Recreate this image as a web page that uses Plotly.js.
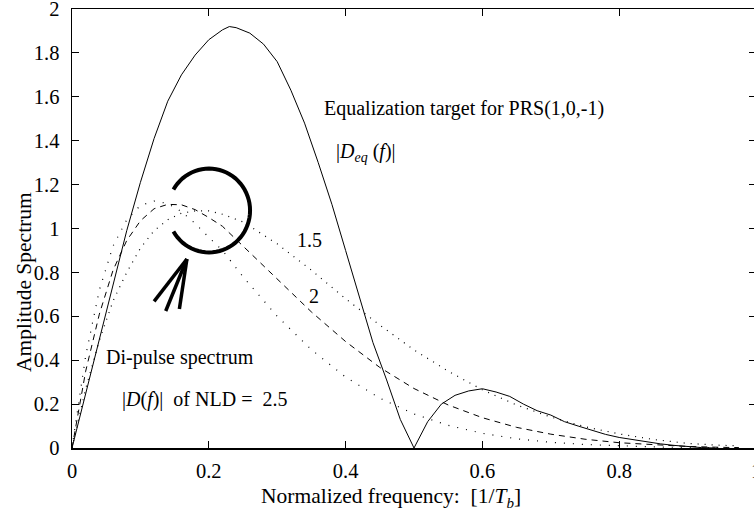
<!DOCTYPE html>
<html>
<head>
<meta charset="utf-8">
<script src="https://cdn.plot.ly/plotly-3.0.1.min.js"></script>
<style>
html,body{margin:0;padding:0;background:#fff;overflow:hidden;width:754px;height:520px;}
#chart{width:760px;height:520px;}
</style>
</head>
<body>
<div id="chart"></div>
<script>
// Equalization target |Deq(f)| (solid)
var eqFreq = [0,0.02,0.04,0.06,0.08,0.10,0.12,0.14,0.16,0.18,0.20,0.22,0.23,0.24,0.26,0.28,0.30,0.32,0.34,0.36,0.38,0.40,0.42,0.44,0.46,0.48,0.50,0.52,0.54,0.56,0.58,0.60,0.62,0.64,0.66,0.68,0.70,0.72,0.74,0.76,0.78,0.80,0.82,0.84,0.86,0.88,0.90,0.92,0.94];
var eqAmp  = [0,0.25,0.50,0.74,0.99,1.21,1.41,1.58,1.70,1.79,1.86,1.905,1.92,1.915,1.89,1.84,1.76,1.63,1.48,1.30,1.11,0.90,0.69,0.48,0.31,0.13,0.0,0.12,0.20,0.24,0.26,0.27,0.255,0.235,0.20,0.17,0.15,0.12,0.10,0.08,0.062,0.048,0.038,0.028,0.019,0.012,0.006,0.002,0];

// Di-pulse spectra |D(f)| for NLD = 1.5, 2, 2.5
var dFreq   = [0,0.02,0.04,0.06,0.08,0.10,0.12,0.14,0.16,0.18,0.20,0.22,0.25,0.30,0.35,0.40,0.45,0.50,0.55,0.60,0.65,0.70,0.75,0.80,0.85,0.90,0.95,0.975];
var dNld15  = [0,0.27,0.49,0.67,0.80,0.91,0.99,1.04,1.07,1.08,1.08,1.065,1.03,0.93,0.81,0.68,0.56,0.447,0.35,0.265,0.196,0.141,0.097,0.064,0.039,0.021,0.012,0.01];
var dNld20  = [0,0.35,0.61,0.81,0.945,1.035,1.09,1.11,1.108,1.086,1.05,1.01,0.92,0.77,0.62,0.485,0.367,0.271,0.196,0.138,0.094,0.063,0.04,0.024,0.014,0.007,0.003,0.002];
var dNld25  = [0,0.42,0.72,0.92,1.04,1.105,1.125,1.114,1.077,1.023,0.96,0.90,0.78,0.60,0.448,0.323,0.227,0.155,0.103,0.067,0.042,0.026,0.016,0.009,0.005,0.002,0.001,0.001];

var xTicks = [0,0.2,0.4,0.6,0.8,1];
var xTickText = ['0','0.2','0.4','0.6','0.8','1'];
var yTicks = [0,0.2,0.4,0.6,0.8,1,1.2,1.4,1.6,1.8,2];
var yTickText = ['0','0.2','0.4','0.6','0.8','1','1.2','1.4','1.6','1.8','2'];

var FONT = '"Liberation Serif", "Times New Roman", Times, serif';

var traces = [
  {x: eqFreq, y: eqAmp, mode: 'lines', line: {color: '#000', width: 1}, hoverinfo: 'skip'},
  {x: dFreq, y: dNld15, mode: 'lines', line: {color: '#000', width: 1.2, dash: '1px,6px'}, hoverinfo: 'skip'},
  {x: dFreq, y: dNld20, mode: 'lines', line: {color: '#000', width: 1, dash: '6px,5px'}, hoverinfo: 'skip'},
  {x: dFreq, y: dNld25, mode: 'lines', line: {color: '#000', width: 1.2, dash: '1px,8px'}, hoverinfo: 'skip'}
];

// open circle (arc) around the peak region, built in data units
var arcCx = 0.2003, arcCy = 1.082, arcRx = 0.060, arcRy = 0.191;
var arcPath = '';
for (var i = 0; i <= 60; i++) {
  var a = (150 - i * 300 / 60) * Math.PI / 180;
  var px = arcCx + arcRx * Math.cos(a);
  var py = arcCy + arcRy * Math.sin(a);
  arcPath += (i === 0 ? 'M ' : ' L ') + px.toFixed(4) + ',' + py.toFixed(4);
}

var arrowTip = [0.168, 0.861];
var arrowTails = [[0.120, 0.668], [0.137, 0.624], [0.157, 0.633]];

var shapes = [{type: 'path', xref: 'x', yref: 'y', path: arcPath, line: {color: '#000', width: 4}}];
arrowTails.forEach(function (t) {
  shapes.push({type: 'line', xref: 'x', yref: 'y', x0: t[0], y0: t[1], x1: arrowTip[0], y1: arrowTip[1], line: {color: '#000', width: 3.5}});
});

function ann(text, x, y, xanchor, extra) {
  var o = {text: text, x: x, y: y, xref: 'paper', yref: 'paper', xanchor: xanchor || 'left', yanchor: 'middle',
    showarrow: false, font: {family: FONT, size: 20, color: '#000'}};
  for (var k in extra) o[k] = extra[k];
  return o;
}
// helper: pixel position -> paper coords (plot area 72..756 x, 9..448 y)
function pX(px) { return (px - 72) / 684; }
function pY(py) { return (448 - py) / 439; }

var annotations = [
  ann('Equalization target for PRS(1,0,-1)', pX(322), pY(108)),
  ann('|<i>D</i><sub><i>eq</i></sub> (<i>f</i>)|', pX(334), pY(152)),
  ann('1.5', pX(295), pY(240)),
  ann('2', pX(307), pY(296)),
  ann('Di-pulse spectrum', pX(104), pY(357)),
  ann('|<i>D</i>(<i>f</i>)|  of NLD =  2.5', pX(120), pY(399)),
  ann('Normalized frequency:  [1/<i>T</i><sub><i>b</i></sub>]', pX(391), pY(497), 'center', {font: {family: FONT, size: 21.5, color: '#000'}}),
  ann('Amplitude Spectrum', pX(24), pY(282), 'center', {textangle: -90, font: {family: FONT, size: 21.5, color: '#000'}})
];

var layout = {
  width: 760, height: 520,
  margin: {l: 72, r: 4, t: 9, b: 72, pad: 0},
  paper_bgcolor: '#fff', plot_bgcolor: '#fff',
  showlegend: false,
  font: {family: FONT, size: 20, color: '#000'},
  xaxis: {range: [0, 1], tickvals: xTicks, ticktext: xTickText, ticks: 'inside', ticklen: 7, tickcolor: '#000', tickwidth: 1,
    showline: true, linecolor: '#000', linewidth: 1.5, mirror: 'allticks', showgrid: false, zeroline: false,
    tickfont: {family: FONT, size: 20.5, color: '#000'}, ticklabelstandoff: 4, ticklabeloverflow: 'allow'},
  yaxis: {range: [0, 2], tickvals: yTicks, ticktext: yTickText, ticks: 'inside', ticklen: 7, tickcolor: '#000', tickwidth: 1,
    showline: true, linecolor: '#000', linewidth: 1.5, mirror: 'allticks', showgrid: false, zeroline: false,
    tickfont: {family: FONT, size: 20.5, color: '#000'}, ticklabelstandoff: 7, ticklabeloverflow: 'allow'},
  shapes: shapes,
  annotations: annotations
};

Plotly.newPlot('chart', traces, layout, {staticPlot: true, displayModeBar: false});
</script>
</body>
</html>
